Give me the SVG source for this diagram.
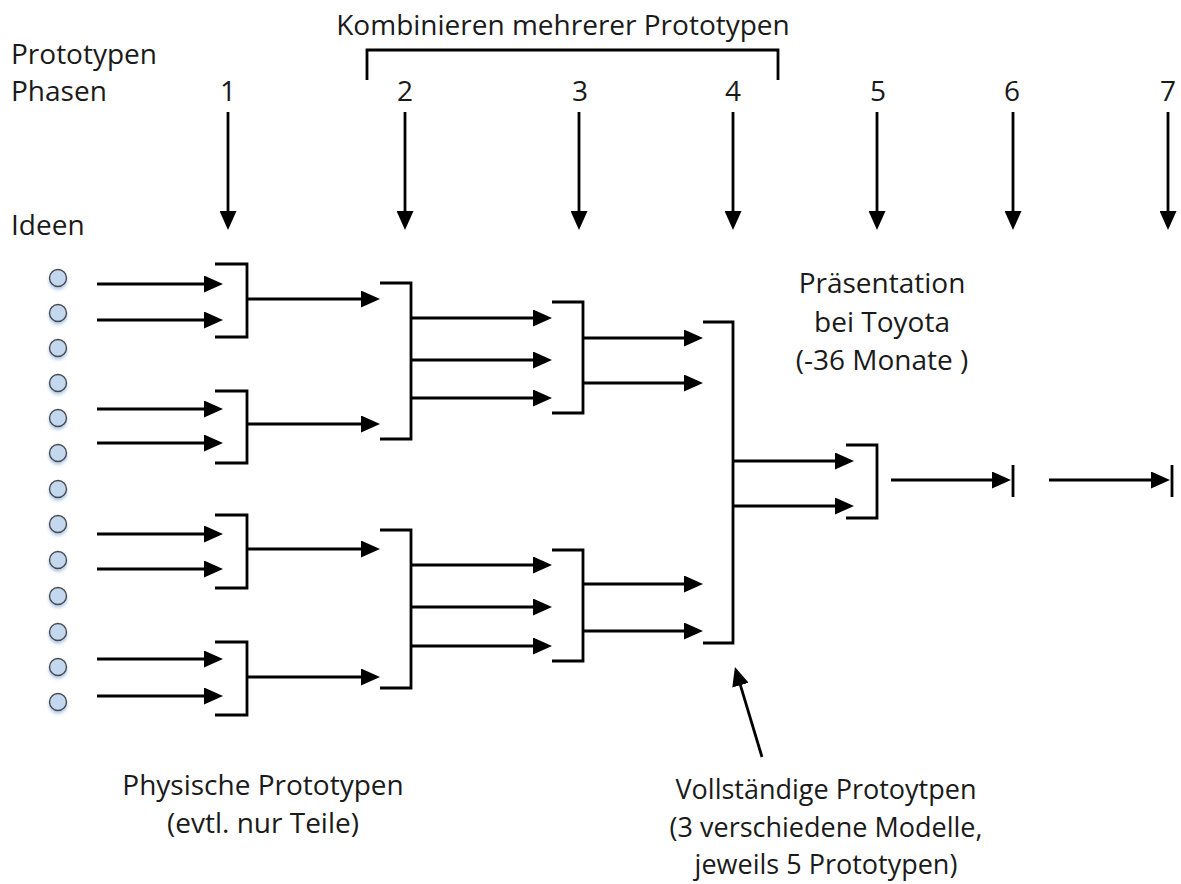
<svg xmlns="http://www.w3.org/2000/svg" width="1181" height="884" viewBox="0 0 1181 884">
  <style>
    .t { font-family: "Open Sans", "Liberation Sans", sans-serif; font-size: 28px; fill: #1a1a1a; }
    .s { font-size: 27px; }
    .m { text-anchor: middle; }
    .ln { stroke: #000; stroke-width: 2.8; fill: none; }
    .arr { stroke: #000; stroke-width: 2.8; fill: none; marker-end: url(#ah); }
    .idea { fill: #c3d8ef; stroke: #4a4a4a; stroke-width: 1.4; filter: url(#glow); }
  </style>
  <defs>
    <marker id="ah" viewBox="0 0 19 17" refX="15" refY="8.5" markerWidth="19" markerHeight="17" markerUnits="userSpaceOnUse" orient="auto">
      <path d="M0,0 L19,8.5 L0,17 z" fill="#000"/>
    </marker>
    <filter id="glow" x="-50%" y="-50%" width="200%" height="220%">
      <feDropShadow dx="0" dy="2.5" stdDeviation="1.6" flood-color="#8fb4e0" flood-opacity="0.7"/>
    </filter>
  </defs>

  <rect width="1181" height="884" fill="#fff"/>

  <!-- header labels -->
  <g id="labels">
    <text class="t" x="11" y="64">Prototypen</text>
    <text class="t" x="11" y="101">Phasen</text>
    <text class="t" x="11" y="235">Ideen</text>
    <text class="t m" x="563" y="35">Kombinieren mehrerer Prototypen</text>
    <text class="t m" x="228" y="101">1</text>
    <text class="t m" x="405" y="101">2</text>
    <text class="t m" x="580" y="101">3</text>
    <text class="t m" x="733" y="101">4</text>
    <text class="t m" x="878" y="101">5</text>
    <text class="t m" x="1012" y="101">6</text>
    <text class="t m" x="1168" y="101">7</text>
  </g>

  <!-- span bracket over phases 2-4 -->
  <path id="combine-bracket" class="ln" d="M367,80 V50 H778 V80"/>

  <!-- idea dots -->
  <g id="ideas">
    <circle class="idea" cx="58" cy="278" r="8.5"/>
    <circle class="idea" cx="58" cy="313" r="8.5"/>
    <circle class="idea" cx="58" cy="348" r="8.5"/>
    <circle class="idea" cx="58" cy="383" r="8.5"/>
    <circle class="idea" cx="58" cy="418" r="8.5"/>
    <circle class="idea" cx="58" cy="453" r="8.5"/>
    <circle class="idea" cx="58" cy="489" r="8.5"/>
    <circle class="idea" cx="58" cy="524" r="8.5"/>
    <circle class="idea" cx="58" cy="560" r="8.5"/>
    <circle class="idea" cx="58" cy="596" r="8.5"/>
    <circle class="idea" cx="58" cy="632" r="8.5"/>
    <circle class="idea" cx="58" cy="667" r="8.5"/>
    <circle class="idea" cx="58" cy="702" r="8.5"/>
  </g>

  <!-- merge brackets -->
  <g id="phase1">
    <path class="ln" d="M215,264 H247 V337 H215"/>
    <path class="ln" d="M215,391 H247 V463 H215"/>
    <path class="ln" d="M215,515 H247 V588 H215"/>
    <path class="ln" d="M215,642 H247 V715 H215"/>
  </g>
  <g id="phase2">
    <path class="ln" d="M380,283 H411 V439 H380"/>
    <path class="ln" d="M380,530 H411 V688 H380"/>
  </g>
  <g id="phase3">
    <path class="ln" d="M552,302 H583 V413 H552"/>
    <path class="ln" d="M552,550 H583 V661 H552"/>
  </g>
  <g id="phase4">
    <path class="ln" d="M703,322 H733 V643 H703"/>
  </g>
  <g id="phase5">
    <path class="ln" d="M846,445 H877 V518 H846"/>
  </g>
  <g id="phase6">
    <path class="ln" d="M1013,465 V497"/>
  </g>
  <g id="phase7">
    <path class="ln" d="M1172,465 V497"/>
  </g>

  <!-- connectors -->
  <g id="connectors">
    <!-- phase markers -->
    <line class="arr" x1="228" y1="112" x2="228" y2="226"/>
    <line class="arr" x1="405" y1="112" x2="405" y2="226"/>
    <line class="arr" x1="579" y1="112" x2="579" y2="226"/>
    <line class="arr" x1="733" y1="112" x2="733" y2="226"/>
    <line class="arr" x1="877" y1="112" x2="877" y2="226"/>
    <line class="arr" x1="1013" y1="112" x2="1013" y2="226"/>
    <line class="arr" x1="1168" y1="112" x2="1168" y2="226"/>

    <!-- ideas into phase 1 -->
    <line class="arr" x1="97" y1="284" x2="219" y2="284"/>
    <line class="arr" x1="97" y1="320" x2="219" y2="320"/>
    <line class="arr" x1="97" y1="409" x2="219" y2="409"/>
    <line class="arr" x1="97" y1="443" x2="219" y2="443"/>
    <line class="arr" x1="97" y1="534" x2="219" y2="534"/>
    <line class="arr" x1="97" y1="569" x2="219" y2="569"/>
    <line class="arr" x1="97" y1="659" x2="219" y2="659"/>
    <line class="arr" x1="97" y1="696" x2="219" y2="696"/>

    <!-- phase 1 to phase 2 -->
    <line class="arr" x1="247" y1="299" x2="376" y2="299"/>
    <line class="arr" x1="247" y1="424" x2="376" y2="424"/>
    <line class="arr" x1="247" y1="549" x2="376" y2="549"/>
    <line class="arr" x1="247" y1="677" x2="376" y2="677"/>

    <!-- phase 2 to phase 3 -->
    <line class="arr" x1="411" y1="318" x2="548" y2="318"/>
    <line class="arr" x1="411" y1="360" x2="548" y2="360"/>
    <line class="arr" x1="411" y1="398" x2="548" y2="398"/>
    <line class="arr" x1="411" y1="565" x2="548" y2="565"/>
    <line class="arr" x1="411" y1="607" x2="548" y2="607"/>
    <line class="arr" x1="411" y1="646" x2="548" y2="646"/>

    <!-- phase 3 to phase 4 -->
    <line class="arr" x1="583" y1="338" x2="699" y2="338"/>
    <line class="arr" x1="583" y1="383" x2="699" y2="383"/>
    <line class="arr" x1="583" y1="584" x2="699" y2="584"/>
    <line class="arr" x1="583" y1="631" x2="699" y2="631"/>

    <!-- phase 4 to phase 5 -->
    <line class="arr" x1="733" y1="461" x2="850" y2="461"/>
    <line class="arr" x1="733" y1="506" x2="850" y2="506"/>

    <!-- phase 5 onward -->
    <line class="arr" x1="891" y1="480" x2="1007" y2="480"/>
    <line class="arr" x1="1049" y1="480" x2="1166" y2="480"/>

    <!-- callout to full prototypes -->
    <line class="arr" x1="762" y1="757" x2="736.1" y2="670.8"/>
  </g>

  <!-- annotations -->
  <g id="note-presentation">
    <text class="t m" x="882" y="293">Präsentation</text>
    <text class="t m" x="882" y="332">bei Toyota</text>
    <text class="t m" x="882" y="370">(-36 Monate )</text>
  </g>
  <g id="note-physical">
    <text class="t m" x="263" y="795">Physische Prototypen</text>
    <text class="t m" x="263" y="833">(evtl. nur Teile)</text>
  </g>
  <g id="note-complete">
    <text class="t s m" x="826" y="799">Vollständige Protoytpen</text>
    <text class="t s m" x="826" y="837">(3 verschiedene Modelle,</text>
    <text class="t s m" x="826" y="874">jeweils 5 Prototypen)</text>
  </g>
</svg>
